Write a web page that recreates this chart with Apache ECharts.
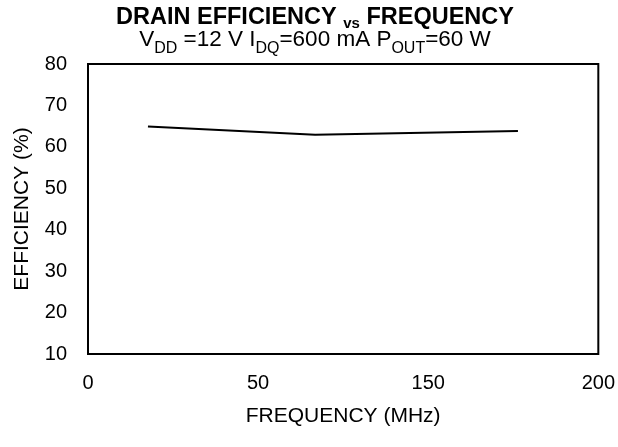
<!DOCTYPE html>
<html><head><meta charset="utf-8">
<script src="https://cdn.jsdelivr.net/npm/echarts@6/dist/echarts.min.js"></script>
<style>html,body{margin:0;padding:0;background:#fff}#c{width:618px;height:447px}</style>
</head><body><div id="c"></div>
<script>
const xTickLabels = ["0", "50", "150", "200"];
const frequency = [23.5, 89, 168.5];
const efficiency = [64.9, 62.9, 63.8];
const yMin = 10, yMax = 80, yStep = 10;

const F = "'Liberation Sans', Arial, sans-serif";
const chart = echarts.init(document.getElementById('c'), null, {renderer: 'canvas'});
chart.setOption({
  animation: false,
  backgroundColor: '#fff',
  title: {
    text: 'DRAIN EFFICIENCY {s|vs} FREQUENCY',
    subtext: 'V{b|DD} =12 V I{b|DQ}=600 mA P{b|OUT}=60 W',
    left: 315, textAlign: 'center', top: 0, itemGap: -3, padding: [6, 0, 0, 0],
    textStyle: {fontFamily: F, fontWeight: 'bold', fontSize: 23.5, lineHeight: 24, color: '#000',
      rich: {s: {fontFamily: F, fontWeight: 'bold', fontSize: 15, color: '#000', verticalAlign: 'bottom', padding: [0,0,-1,0]}}},
    subtextStyle: {fontFamily: F, fontSize: 22.5, lineHeight: 24, color: '#000',
      rich: {b: {fontFamily: F, fontSize: 16, color: '#000', verticalAlign: 'bottom', padding: [0,0,-5,0]}}}
  },
  grid: {left: 88, right: 16, top: 64, bottom: 93, show: true, borderColor: '#000', borderWidth: 2, backgroundColor: 'transparent'},
  xAxis: [
    {type: 'category', data: xTickLabels, boundaryGap: false,
     axisLine: {show: false}, axisTick: {show: false}, splitLine: {show: false},
     axisLabel: {fontFamily: F, fontSize: 20, color: '#000', margin: 19},
     name: 'FREQUENCY (MHz)', nameLocation: 'middle', nameGap: 52,
     nameTextStyle: {fontFamily: F, fontSize: 21, color: '#000'}},
    {type: 'value', min: 0, max: 200, show: false}
  ],
  yAxis: {type: 'value', min: yMin, max: yMax, interval: yStep,
    axisLine: {show: false}, axisTick: {show: false}, splitLine: {show: false},
    axisLabel: {fontFamily: F, fontSize: 20, color: '#000', margin: 21},
    name: 'EFFICIENCY (%)', nameLocation: 'middle', nameGap: 55,
    nameTextStyle: {fontFamily: F, fontSize: 21, color: '#000'}},
  series: [{
    type: 'line', xAxisIndex: 1, symbol: 'none',
    data: frequency.map((f, i) => [f, efficiency[i]]),
    lineStyle: {color: '#000', width: 2}
  }]
});
</script></body></html>
